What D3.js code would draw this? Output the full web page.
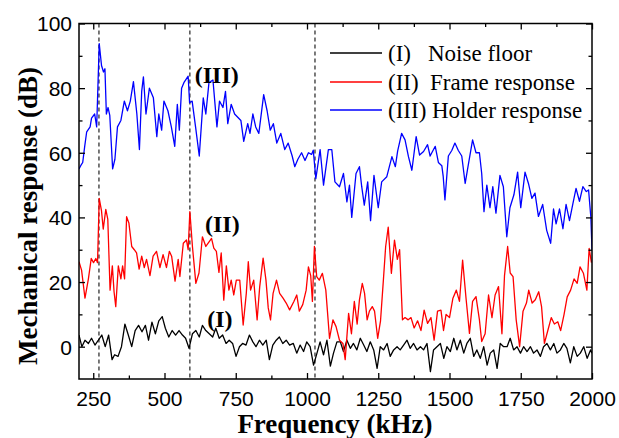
<!DOCTYPE html>
<html><head><meta charset="utf-8">
<script src="https://cdn.jsdelivr.net/npm/d3@7"></script>
<style>body{margin:0;background:#fff}</style>
</head><body><svg id="c" width="619" height="438"></svg>
<script>
const holderData=[[200,55],[206,56],[213,57],[220,62],[227,66.5],[239,68],[244,70.7],[255,72],[262,68],[271,93.8],[279,87],[286,85],[291,86],[296,72],[302,74],[308,71.6],[318,55],[326,58],[335,68],[347,70],[359,76],[370,73],[380,76],[391,82],[403,72],[412,61],[420,79],[426,83.5],[435,72],[447,80],[461,77],[473,65],[480,72],[490,67],[498,76],[512,73],[524,68],[536,62],[545,75],[552,67],[560,80],[568,81.7],[583,83.7],[588,75.5],[597,76],[609,68],[622,59],[636,77],[645,72],[656,81.7],[670,82.5],[684,68],[693,76],[705,74],[714,79],[722,69],[734,75],[746,72],[757,71],[768,70],[778,63.5],[792,69],[800,66],[810,72],[820,68],[831,66],[848,78],[860,73],[871,67],[882,69],[894,63],[908,66],[922,61],[934,63],[948,59],[957,55.7],[968,58],[981,60],[993,57.6],[1005,60],[1016,59.5],[1022,60.8],[1031,52],[1046,61],[1058,50],[1075,61],[1087,61],[1098,51],[1114,49.5],[1128,53.6],[1140,44.8],[1149,50],[1157,40],[1172,53.6],[1184,55.7],[1192,49.5],[1201,43.8],[1213,51],[1223,39],[1235,53],[1250,43],[1262,51],[1280,52.6],[1298,58.8],[1310,55.7],[1318,60.5],[1332,66],[1344,64],[1356,58.8],[1368,54.6],[1383,65],[1395,59.3],[1409,60.4],[1423,62.5],[1432,59],[1450,62],[1461,57],[1473,56],[1478,52.6],[1484,45.4],[1496,59],[1508,60.7],[1519,63],[1531,60.7],[1543,59],[1555,50.5],[1563,54.7],[1581,64],[1593,60],[1605,60],[1613,53.6],[1621,41.8],[1631,50],[1642,43],[1652,49.5],[1663,41.3],[1677,53],[1689,49.5],[1701,34],[1712,43],[1726,47],[1739,54],[1750,43],[1765,54],[1777,50.5],[1789,45.9],[1800,47.5],[1812,40.3],[1827,44],[1841,36],[1855,32],[1865,42.6],[1874,38],[1886,42.6],[1898,36.5],[1909,44],[1921,39],[1933,44.3],[1944,49],[1956,45],[1968,49.5],[1980,48],[1988,48.5],[1996,40],[2000,30]];
const frameData=[[200,26.3],[209,23.7],[221,15],[233,21],[243,27.3],[251,26],[259,27.3],[265,26],[271,45.9],[279,42],[285,36.4],[294,42.5],[301,39.5],[309,17.5],[317,25],[323,17],[329,12.4],[338,25],[347,21],[353,25],[360,21],[367,40.2],[375,38.3],[385,31],[394,30],[402,29],[411,24],[420,28],[429,24.5],[437,27],[449,22],[460,28],[472,29.5],[484,24.5],[495,28.5],[507,24.5],[517,29.5],[525,28],[537,20.3],[548,27],[554,21.7],[566,32],[577,33],[583,30],[589,41.8],[598,31],[610,19.6],[621,22.8],[633,34],[645,31],[657,32.5],[665,33.5],[673,30.5],[682,29.5],[691,23],[699,29],[708,14.4],[717,25],[726,17.5],[734,20.6],[743,16],[752,20.6],[764,20.6],[776,6.7],[787,16.5],[794,26.3],[802,17.5],[813,20.6],[825,8.3],[834,18.5],[846,27.4],[856,20.6],[864,12],[872,8.3],[881,16.5],[893,20.6],[904,16.5],[916,15],[927,13.5],[939,11.4],[954,14],[964,16],[973,11],[985,13],[997,17.5],[1005,24.7],[1013,22],[1019,14],[1026,31],[1034,21.7],[1043,20.6],[1054,22.7],[1066,17.5],[1079,2.6],[1091,8.3],[1102,6.2],[1114,2],[1126,1],[1134,-4],[1146,10.3],[1156,4],[1166,14],[1176,7],[1184,14.5],[1194,19.6],[1202,16.5],[1211,8.3],[1219,11],[1229,12.4],[1237,11],[1248,2.6],[1258,8],[1268,20.6],[1276,31],[1285,37],[1296,22.7],[1307,33],[1317,27],[1325,30],[1335,8.3],[1344,9],[1355,8.3],[1365,9],[1376,5.8],[1388,8],[1400,5],[1411,11.3],[1423,7.2],[1435,9],[1446,2],[1458,11],[1470,11.3],[1479,5],[1488,10],[1500,9],[1512,15],[1524,17.5],[1535,14],[1546,26.8],[1558,15],[1570,4.1],[1581,14],[1593,15.5],[1605,8.3],[1613,1.6],[1625,4],[1637,16],[1649,9],[1660,16],[1672,18.6],[1684,4],[1693,22],[1704,31],[1713,22.8],[1723,21.7],[1734,8.3],[1746,0],[1758,11],[1770,13.5],[1778,17.5],[1790,13.5],[1801,14.5],[1813,17],[1823,12.4],[1833,1],[1845,5],[1857,9],[1868,7],[1880,7.7],[1890,5],[1902,10],[1913,15.4],[1925,17.5],[1937,21],[1948,19.6],[1958,24.7],[1970,22.7],[1982,17.5],[1990,30.4],[1998,26]];
const noiseData=[[200,3.6],[210,0],[221,2],[233,1],[244,2.6],[256,0.5],[268,2],[280,3.6],[292,0],[304,3.6],[316,-4],[325,-2.5],[337,-3],[349,0],[361,7],[373,3.6],[385,0],[397,5],[409,6.6],[421,4.6],[433,6.6],[444,2],[456,7.6],[468,4],[480,8],[492,9.3],[503,5.7],[515,3],[527,5],[539,3.6],[551,5],[563,3.6],[574,2.6],[586,-0.5],[598,4],[610,5],[622,3],[633,6.6],[645,5],[657,4],[669,3],[680,5.7],[692,2.6],[704,3.6],[716,1],[727,2],[739,1],[751,-3],[763,0],[774,1],[786,0.5],[798,3.6],[810,1.5],[821,0],[833,2],[845,0.5],[857,2],[868,-4],[880,0.5],[892,2],[903,3],[915,1],[927,2],[939,0.5],[952,1],[964,-2],[976,0.5],[988,-1.5],[999,1.5],[1011,0],[1023,-5.7],[1035,-2],[1046,1.5],[1058,-2.5],[1070,2],[1082,-6],[1093,-2],[1105,1.5],[1117,1.5],[1128,-1.5],[1140,2],[1152,-0.5],[1163,1],[1175,-1],[1187,2.6],[1199,0.5],[1210,-1.5],[1222,1.5],[1234,-1],[1246,-6.7],[1257,0],[1269,-1],[1281,1],[1292,-3],[1304,-1],[1316,0],[1327,-1],[1339,0.5],[1351,2],[1362,-0.5],[1374,1],[1386,-1],[1398,0],[1409,-1],[1421,1],[1433,-7.7],[1444,-1],[1456,0],[1468,1],[1480,-3.6],[1491,0],[1503,-1.5],[1515,2.6],[1526,-1],[1538,2],[1550,-2],[1561,1],[1573,2.6],[1585,-3],[1596,-1],[1608,-3.6],[1620,0],[1632,-5.7],[1643,-2],[1655,-1],[1667,-6.7],[1678,1],[1690,0],[1702,0],[1713,2.6],[1725,-1],[1737,0],[1749,-2],[1760,0],[1772,-1.5],[1784,0],[1795,-2],[1807,-1],[1819,-3],[1830,0],[1842,1],[1854,-1],[1866,1],[1877,-2],[1889,-1],[1901,1],[1912,-0.5],[1924,-5],[1936,0],[1948,-3],[1959,-2],[1971,0],[1983,-3.6],[1995,-1],[2000,-2]];
const markerFreqs=[270,589,1028];
const xTicks=[250,500,750,1000,1250,1500,1750,2000];
const xMinor=[375,625,875,1125,1375,1625,1875];
const yTicks=[0,20,40,60,80,100];
const yMinor=[10,30,50,70,90];
const seriesNames=["(I)","(II)","(III)"];
const seriesDesc=["Noise floor","Frame response","Holder response"];
const seriesColors=["#000000","#ff0000","#0000ff"];
const curveLabels=[{t:"(I)",f:650,v:6.2},{t:"(II)",f:642,v:35.5},{t:"(III)",f:606,v:81.5}];

const svg=d3.select("#c");
const L=79,R=592,T=23.5,B=379;
const x=d3.scaleLinear().domain([200,2000]).range([L,R]);
const y=d3.scaleLinear().domain([-10,100]).range([B,T]);
const serif="'Liberation Serif','Times New Roman',serif";
const sans="'Liberation Sans',Arial,sans-serif";

svg.append("clipPath").attr("id","cp").append("rect").attr("x",L).attr("y",T).attr("width",R-L).attr("height",B-T);

svg.append("g").selectAll("line").data(markerFreqs).join("line")
 .attr("x1",d=>x(d)).attr("x2",d=>x(d)).attr("y1",T).attr("y2",B)
 .attr("stroke","#333").attr("stroke-width",1.3).attr("stroke-dasharray","4,3");

const line=d3.line().x(d=>x(d[0])).y(d=>y(d[1]));
const g=svg.append("g").attr("clip-path","url(#cp)");
[[noiseData,0],[frameData,1],[holderData,2]].forEach(([d,i])=>{
 g.append("path").datum(d).attr("d",line).attr("fill","none")
  .attr("stroke",seriesColors[i]).attr("stroke-width",1.3).attr("stroke-linejoin","round");
});

function ax(gen,tr,vals,size,fmt){
 const a=svg.append("g").attr("transform",tr).call(gen.tickValues(vals).tickSize(size).tickSizeOuter(0).tickFormat(fmt));
 a.select(".domain").remove();
 a.selectAll("line").attr("stroke","#000").attr("stroke-width",1.3);
 return a;
}
const none=()=> "";
const xb=ax(d3.axisBottom(x),`translate(0,${B})`,xTicks,-6,d3.format("d"));
xb.selectAll("text").attr("font-family",sans).attr("font-size",21).attr("fill","#000").attr("y",12).attr("dy","0.71em");
ax(d3.axisBottom(x),`translate(0,${B})`,xMinor,-3.5,none);
ax(d3.axisTop(x),`translate(0,${T})`,xTicks,-6,none);
ax(d3.axisTop(x),`translate(0,${T})`,xMinor,-3.5,none);
const yl=ax(d3.axisLeft(y),`translate(${L},0)`,yTicks,-6,d3.format("d"));
yl.selectAll("text").attr("font-family",sans).attr("font-size",21).attr("fill","#000").attr("x",-7).attr("dy","0.35em");
ax(d3.axisLeft(y),`translate(${L},0)`,yMinor,-3.5,none);
ax(d3.axisRight(y),`translate(${R},0)`,yTicks,-6,none);
ax(d3.axisRight(y),`translate(${R},0)`,yMinor,-3.5,none);

svg.append("rect").attr("x",L).attr("y",T).attr("width",R-L).attr("height",B-T)
 .attr("fill","none").attr("stroke","#000").attr("stroke-width",1.5);

svg.append("g").selectAll("text").data(curveLabels).join("text")
 .attr("x",d=>x(d.f)).attr("y",d=>y(d.v)).text(d=>d.t)
 .attr("font-family",serif).attr("font-weight","bold").attr("font-size",24).attr("fill","#000");

const leg=svg.append("g");
const rowY=[53,82,110];
const descX=[428,430,432];
seriesNames.forEach((n,i)=>{
 leg.append("line").attr("x1",330).attr("x2",382).attr("y1",rowY[i]).attr("y2",rowY[i])
  .attr("stroke",seriesColors[i]).attr("stroke-width",1.3);
 const t=leg.append("text").attr("y",rowY[i]+8).attr("font-family",serif).attr("font-size",23).attr("fill","#000");
 t.append("tspan").attr("x",388).text(n);
 t.append("tspan").attr("x",descX[i]).text(seriesDesc[i]);
});

svg.append("text").attr("x",335).attr("y",433).attr("text-anchor","middle")
 .attr("font-family",serif).attr("font-weight","bold").attr("font-size",27).text("Frequency (kHz)");
svg.append("text").attr("transform","translate(37,216) rotate(-90)").attr("text-anchor","middle")
 .attr("font-family",serif).attr("font-weight","bold").attr("font-size",27).text("Mechanical response (dB)");
</script></body></html>
